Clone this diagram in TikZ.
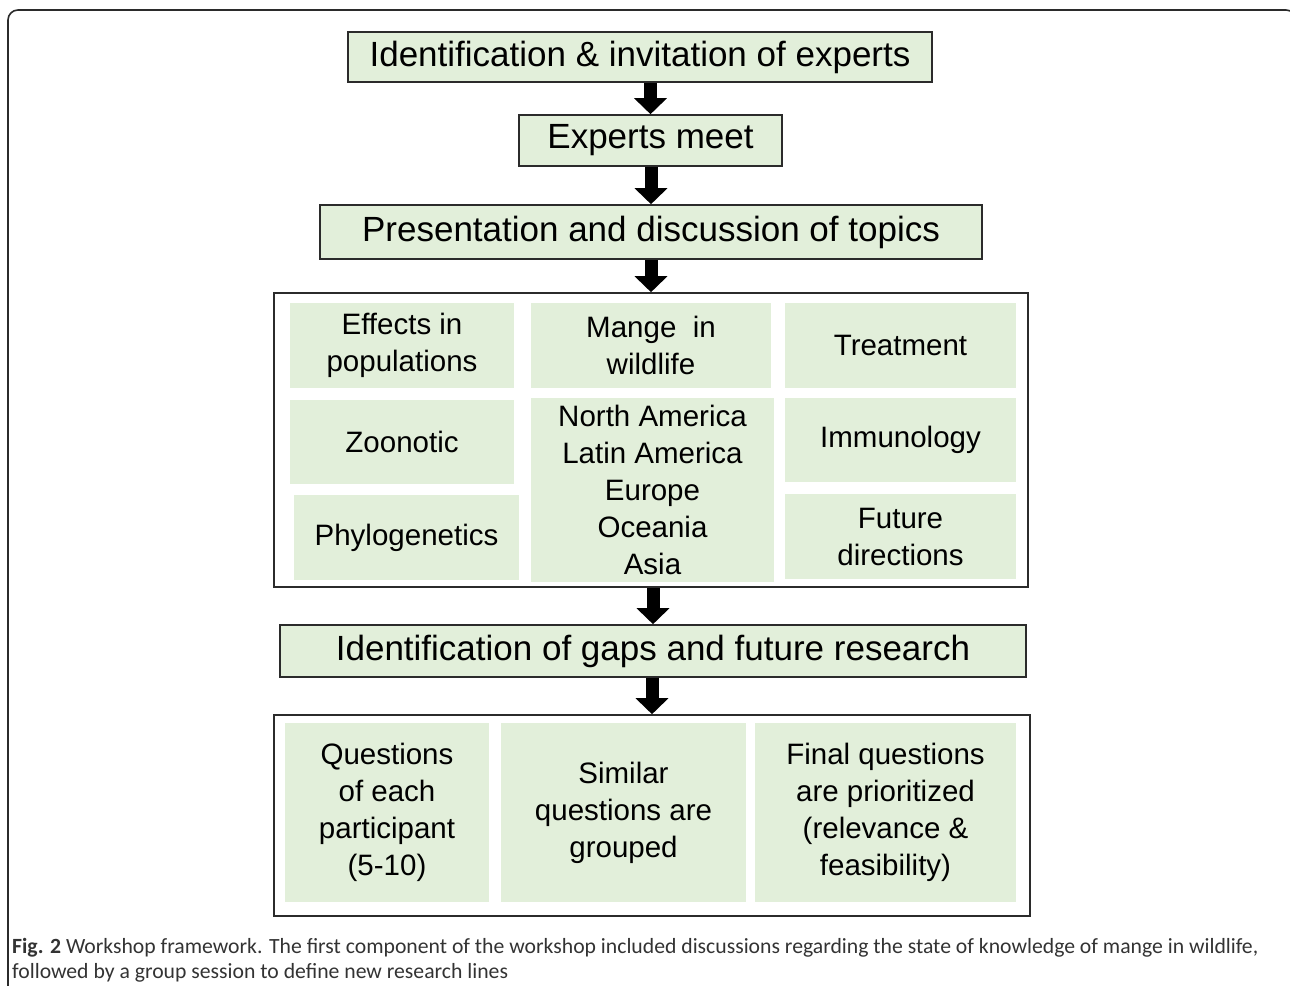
\documentclass[tikz,border=0pt]{standalone}
\usepackage{fontspec}
\setmainfont{Liberation Sans}
\newfontfamily\capfont{Carlito}
\usetikzlibrary{arrows.meta}
\definecolor{cellgreen}{HTML}{E2EFDA}
\definecolor{edgegray}{HTML}{2B2B2B}
\definecolor{captext}{HTML}{333333}
\begin{document}
\begin{tikzpicture}[x=1pt,y=-1pt,
  box/.style={draw=edgegray, line width=1.6pt, fill=cellgreen, inner sep=0pt,
    font=\fontsize{35}{40}\selectfont},
  cell/.style={fill=cellgreen, inner sep=0pt, align=center,
    font=\fontsize{29.5}{37}\selectfont},
  framebox/.style={draw=edgegray, line width=1.6pt, inner sep=0pt},
  arr/.style={line width=13pt, -{Triangle[width=32pt,length=16pt]}},
  captxt/.style={anchor=base west, inner sep=0pt, text=captext,
    font=\capfont\fontsize{21.7}{26}\selectfont},
]
\useasboundingbox (0,0) rectangle (1290,985);
% outer panel frame
\draw[edgegray, line width=1.6pt, rounded corners=10pt]
  (8,1000) -- (8,10) -- (1296,10) -- (1296,1000);

% main flow boxes
\node[box, minimum width=584pt, minimum height=50pt] (b1) at (640,57) {Identification \& invitation of experts};
\node[box, minimum width=263pt, minimum height=51pt] (b2) at (650.5,140.5) {Experts meet};
\node[box, minimum width=662pt, minimum height=54pt] (b3) at (651,232) {Presentation and discussion of topics};
\node[framebox, minimum width=754pt, minimum height=294pt] (fa) at (651,440) {};
\node[box, minimum width=746pt, minimum height=52pt] (b4) at (653,651) {Identification of gaps and future research};
\node[framebox, minimum width=756pt, minimum height=201pt] (fb) at (652,815.5) {};

% topic cells
\node[cell, minimum width=224pt, minimum height=85pt] (c1) at (402,345.5) {Effects in\\populations};
\node[cell, minimum width=240pt, minimum height=85pt] (c2) at (651,345.5) {Mange\ \ in\\wildlife};
\node[cell, minimum width=231pt, minimum height=85pt] (c3) at (900.5,345.5) {Treatment};
\node[cell, minimum width=224pt, minimum height=84pt] (c4) at (402,442) {Zoonotic};
\node[cell, minimum width=243pt, minimum height=184pt] (c5) at (652.5,490) {North America\\Latin America\\Europe\\Oceania\\Asia};
\node[cell, minimum width=231pt, minimum height=84pt] (c6) at (900.5,440) {Immunology};
\node[cell, minimum width=225pt, minimum height=85pt] (c7) at (406.5,537.5) {Phylogenetics};
\node[cell, minimum width=231pt, minimum height=85pt] (c8) at (900.5,536.5) {Future\\directions};

% question cells
\node[cell, minimum width=204pt, minimum height=179pt] (q1) at (387,812.5) {Questions\\of each\\participant\\(5-10)};
\node[cell, minimum width=245pt, minimum height=179pt] (q2) at (623.5,812.5) {Similar\\questions are\\grouped};
\node[cell, minimum width=261pt, minimum height=179pt] (q3) at (885.5,812.5) {Final questions\\are prioritized\\(relevance \&\\feasibility)};

% arrows
\draw[arr] (b2.north |- b1.south) -- (b2.north);
\draw[arr] (b3.north |- b2.south) -- (b3.north);
\draw[arr] (fa.north |- b3.south) -- (fa.north);
\draw[arr] (b4.north |- fa.south) -- (b4.north);
\draw[arr] (fb.north |- b4.south) -- (fb.north);

% caption
\node[captxt] (cap1) at (12,953) {\textbf{Fig. 2} Workshop framework. The first component of the workshop included discussions regarding the state of knowledge of mange in wildlife,};
\node[captxt] (cap2) at (12,978) {followed by a group session to define new research lines};
\end{tikzpicture}
\end{document}
